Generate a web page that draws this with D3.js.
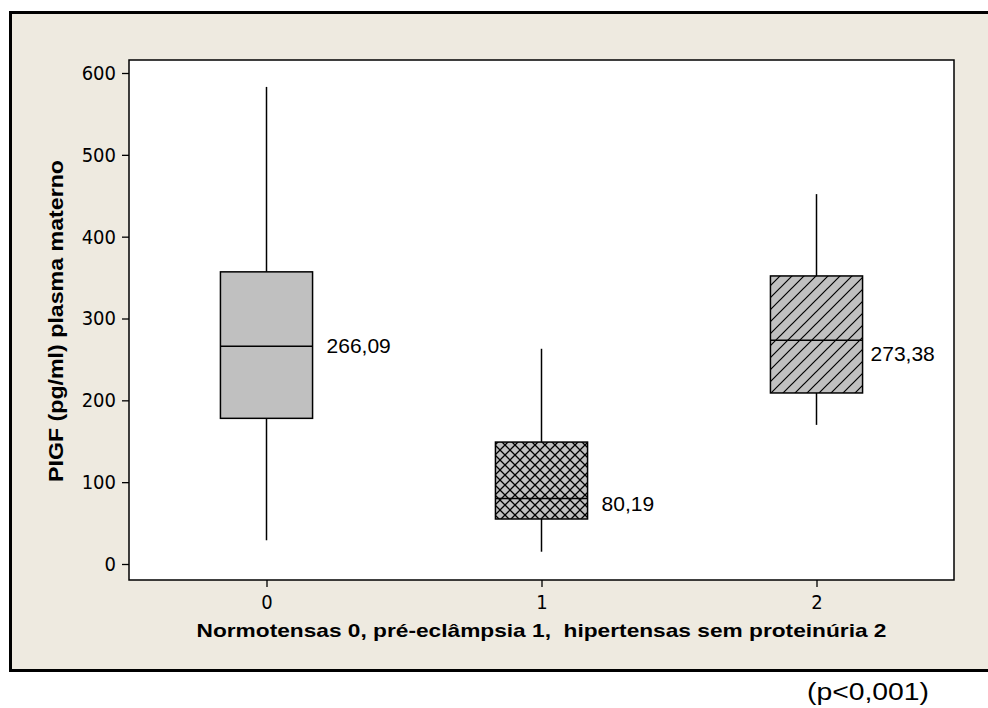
<!DOCTYPE html>
<html>
<head>
<meta charset="utf-8">
<script src="https://cdn.jsdelivr.net/npm/d3@7"></script>
<style>
  html, body { margin: 0; padding: 0; background: #ffffff; }
  svg { display: block; }
</style>
</head>
<body>
<svg id="chart" width="988" height="708"></svg>
<script>
// PlGF in maternal plasma by group: boxplot summaries
const categories = [0, 1, 2];
const whiskerLow  = [29, 15, 170];
const q1          = [178, 55, 209];
const median      = [266.09, 80.19, 273.38];
const q3          = [357, 149, 352];
const whiskerHigh = [583, 263, 452];
const medianLabels = ["266,09", "80,19", "273,38"];
const yTicks = [0, 100, 200, 300, 400, 500, 600];
const fills = ["url(#solid)", "url(#cross)", "url(#diag)"];

const svg = d3.select("#chart");

// outer panel
svg.append("rect")
  .attr("x", 10.5).attr("y", 12.5)
  .attr("width", 1000).attr("height", 658)
  .attr("fill", "#eeeae0")
  .attr("stroke", "#000").attr("stroke-width", 3);

// fill patterns
const defs = svg.append("defs");
defs.append("pattern").attr("id", "solid")
  .attr("patternUnits", "userSpaceOnUse").attr("width", 10).attr("height", 10)
  .append("rect").attr("width", 10).attr("height", 10).attr("fill", "#c0c0c0");

const cross = defs.append("pattern").attr("id", "cross")
  .attr("patternUnits", "userSpaceOnUse").attr("width", 10).attr("height", 10);
cross.append("rect").attr("width", 10).attr("height", 10).attr("fill", "#c0c0c0");
cross.append("path").attr("d", "M-1,-1 L11,11 M-1,11 L11,-1")
  .attr("stroke", "#000").attr("stroke-width", 1.3);

const diag = defs.append("pattern").attr("id", "diag")
  .attr("patternUnits", "userSpaceOnUse").attr("width", 12).attr("height", 12);
diag.append("rect").attr("width", 12).attr("height", 12).attr("fill", "#c0c0c0");
diag.append("path").attr("d", "M-3,3 L3,-3 M0,12 L12,0 M9,15 L15,9")
  .attr("stroke", "#000").attr("stroke-width", 1.2);

const plot = { left: 129, right: 954, top: 60, bottom: 580 };

const x = d3.scaleLinear().domain([-0.5, 2.5]).range([plot.left, plot.right]);
const y = d3.scaleLinear().domain([0, 600]).range([564, 73]);

const tickFont = "'DejaVu Sans Condensed', 'DejaVu Sans', sans-serif";
const textFont = "'Liberation Sans', Arial, sans-serif";

// plot area
svg.append("rect")
  .attr("x", plot.left).attr("y", plot.top)
  .attr("width", plot.right - plot.left).attr("height", plot.bottom - plot.top)
  .attr("fill", "#ffffff").attr("stroke", "#000").attr("stroke-width", 1.5);

// y axis
const yAxis = svg.append("g")
  .attr("transform", `translate(${plot.left},0)`)
  .call(d3.axisLeft(y).tickValues(yTicks).tickSize(7).tickPadding(6).tickSizeOuter(0));
yAxis.select(".domain").remove();
yAxis.selectAll("line").attr("stroke", "#000").attr("stroke-width", 1.3);
yAxis.selectAll("text")
  .attr("font-family", tickFont)
  .attr("font-size", 20).attr("fill", "#000");

// x axis
const xAxis = svg.append("g")
  .attr("transform", `translate(0,${plot.bottom})`)
  .call(d3.axisBottom(x).tickValues(categories).tickFormat(d3.format("d"))
    .tickSize(7).tickPadding(8).tickSizeOuter(0));
xAxis.select(".domain").remove();
xAxis.selectAll("line").attr("stroke", "#000").attr("stroke-width", 1.3);
xAxis.selectAll("text")
  .attr("font-family", tickFont)
  .attr("font-size", 20).attr("fill", "#000");

// boxes
const boxW = 0.335;
// median label nudges (px): the third label sits a little lower and closer
const labelDx = [14, 14, 8];
const labelDy = [-1, 5, 13];
const g = svg.append("g");
categories.forEach((c, i) => {
  const cx = x(c);
  g.append("line")
    .attr("x1", cx).attr("x2", cx)
    .attr("y1", y(whiskerHigh[i])).attr("y2", y(q3[i]))
    .attr("stroke", "#000").attr("stroke-width", 1.5);
  g.append("line")
    .attr("x1", cx).attr("x2", cx)
    .attr("y1", y(q1[i])).attr("y2", y(whiskerLow[i]))
    .attr("stroke", "#000").attr("stroke-width", 1.5);
  const x0 = x(c - boxW / 2), x1 = x(c + boxW / 2);
  g.append("rect")
    .attr("x", x0).attr("y", y(q3[i]))
    .attr("width", x1 - x0).attr("height", y(q1[i]) - y(q3[i]))
    .attr("fill", fills[i]).attr("stroke", "#000").attr("stroke-width", 1.5);
  g.append("line")
    .attr("x1", x0).attr("x2", x1)
    .attr("y1", y(median[i])).attr("y2", y(median[i]))
    .attr("stroke", "#000").attr("stroke-width", 1.5);
  g.append("text")
    .attr("x", x1 + labelDx[i]).attr("y", y(median[i]) + labelDy[i])
    .attr("dy", "0.35em")
    .attr("font-family", textFont)
    .attr("font-size", 21).attr("fill", "#000")
    .text(medianLabels[i]);
});

// axis titles
svg.append("text")
  .attr("x", (plot.left + plot.right) / 2).attr("y", 637)
  .attr("text-anchor", "middle")
  .attr("font-family", textFont)
  .attr("font-weight", "bold").attr("font-size", 19).attr("fill", "#000")
  .attr("textLength", 690).attr("lengthAdjust", "spacingAndGlyphs")
  .attr("xml:space", "preserve")
  .text("Normotensas 0, pré-eclâmpsia 1,  hipertensas sem proteinúria 2");

svg.append("text")
  .attr("transform", `translate(63,${(plot.top + plot.bottom) / 2 + 1}) rotate(-90)`)
  .attr("text-anchor", "middle")
  .attr("font-family", textFont)
  .attr("font-weight", "bold").attr("font-size", 20).attr("fill", "#000")
  .attr("textLength", 322).attr("lengthAdjust", "spacingAndGlyphs")
  .text("PIGF (pg/ml) plasma materno");

svg.append("text")
  .attr("x", 807).attr("y", 700)
  .attr("font-family", textFont)
  .attr("font-size", 23).attr("fill", "#000")
  .attr("textLength", 122).attr("lengthAdjust", "spacingAndGlyphs")
  .text("(p<0,001)");
</script>
</body>
</html>
